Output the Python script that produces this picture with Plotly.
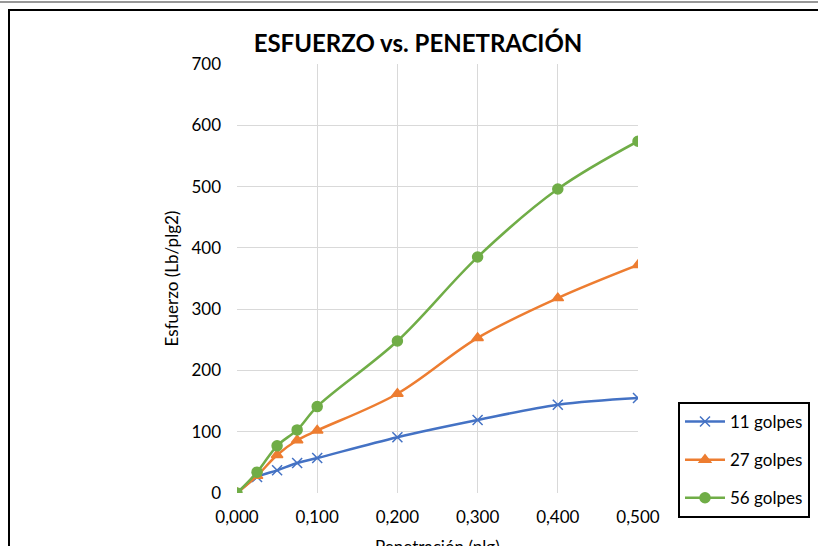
import plotly.graph_objects as go

penetracion = [0.0, 0.025, 0.05, 0.075, 0.1, 0.2, 0.3, 0.4, 0.5]
golpes_11 = [0, 26, 37, 49, 57, 91, 119, 144, 155]
golpes_27 = [0, 28, 62, 86, 102, 162, 253, 318, 372]
golpes_56 = [0, 34, 77, 103, 141, 248, 385, 496, 574]
series_names = ["11 golpes", "27 golpes", "56 golpes"]
x_ticks = [0.0, 0.1, 0.2, 0.3, 0.4, 0.5]
y_ticks = [0, 100, 200, 300, 400, 500, 600, 700]
x_title = "Penetración (plg)"
y_title = "Esfuerzo (Lb/plg2)"

W, H = 818, 546
L, R, T, B = 237, 638, 64, 493  # plot area in pixels

def px(x):
    return (x - L) / (R - L)

def py(y):
    return (B - y) / (B - T)

FONT = "Lato, Carlito, Calibri, sans-serif"
FS = 17

fig = go.Figure()
styles = [
    (golpes_11, "#4472C4", "x-thin", 10, "g1"),
    (golpes_27, "#ED7D31", "triangle-up", 10, "g2"),
    (golpes_56, "#70AD47", "circle", 10, "g3"),
]
for name, (ys, col, sym, size, grp) in zip(series_names, styles):
    fig.add_trace(go.Scatter(
        x=penetracion, y=ys, name=name, mode="lines+markers",
        line=dict(color=col, width=2.5, shape="spline", smoothing=1.0),
        marker=dict(symbol=sym, size=size, color=col,
                    line=dict(color=col, width=1.5)),
        legendgroup=grp,
    ))

shapes = [
    dict(type="line", xref="paper", yref="paper", x0=px(-2), x1=px(W + 2), y0=py(2), y1=py(2),
         line=dict(color="#333333", width=1.2)),
    dict(type="line", xref="paper", yref="paper", x0=px(8), x1=px(W + 5), y0=py(10), y1=py(10),
         line=dict(color="black", width=2)),
    dict(type="line", xref="paper", yref="paper", x0=px(9), x1=px(9), y0=py(9), y1=py(H + 5),
         line=dict(color="black", width=2)),
]

fig.update_layout(
    width=W, height=H,
    margin=dict(l=L, r=W - R, t=T, b=H - B, pad=0, autoexpand=False),
    paper_bgcolor="white", plot_bgcolor="white",
    separators=",.",
    font=dict(family=FONT, size=FS, color="black"),
    title=dict(text="<b>ESFUERZO vs. PENETRACIÓN</b>", x=px(418), xanchor="center",
               xref="paper", y=1 - 44 / H, yanchor="middle",
               font=dict(family=FONT, size=24, color="black")),
    shapes=shapes,
    annotations=[dict(text=x_title, xref="paper", yref="paper", x=px(437), y=py(546),
                      xanchor="center", yanchor="middle", showarrow=False,
                      font=dict(family=FONT, size=FS, color="black"))],
    legend=dict(x=px(678), y=py(402), xanchor="left", yanchor="top",
                bordercolor="black", borderwidth=2, bgcolor="white",
                tracegroupgap=13, itemwidth=40,
                font=dict(family=FONT, size=FS, color="black")),
    showlegend=True,
)
fig.update_xaxes(range=[0, 0.5], tickvals=x_ticks, tickformat=".3f",
                 showgrid=True, gridcolor="#D9D9D9", gridwidth=1,
                 zeroline=False, showline=False, ticks="", automargin=False,
                 ticklabelstandoff=12,
                 tickfont=dict(family=FONT, size=FS))
fig.update_yaxes(range=[0, 700], tickvals=y_ticks,
                 showgrid=True, gridcolor="#D9D9D9", gridwidth=1,
                 zeroline=False, showline=False, ticks="", automargin=False,
                 ticklabelstandoff=15,
                 tickfont=dict(family=FONT, size=FS),
                 title=dict(text=y_title, standoff=8,
                            font=dict(family=FONT, size=FS)))

fig.write_html("out.html", config={"displayModeBar": False},
               post_script="document.body.style.margin='0px';document.body.style.overflow='hidden';")
